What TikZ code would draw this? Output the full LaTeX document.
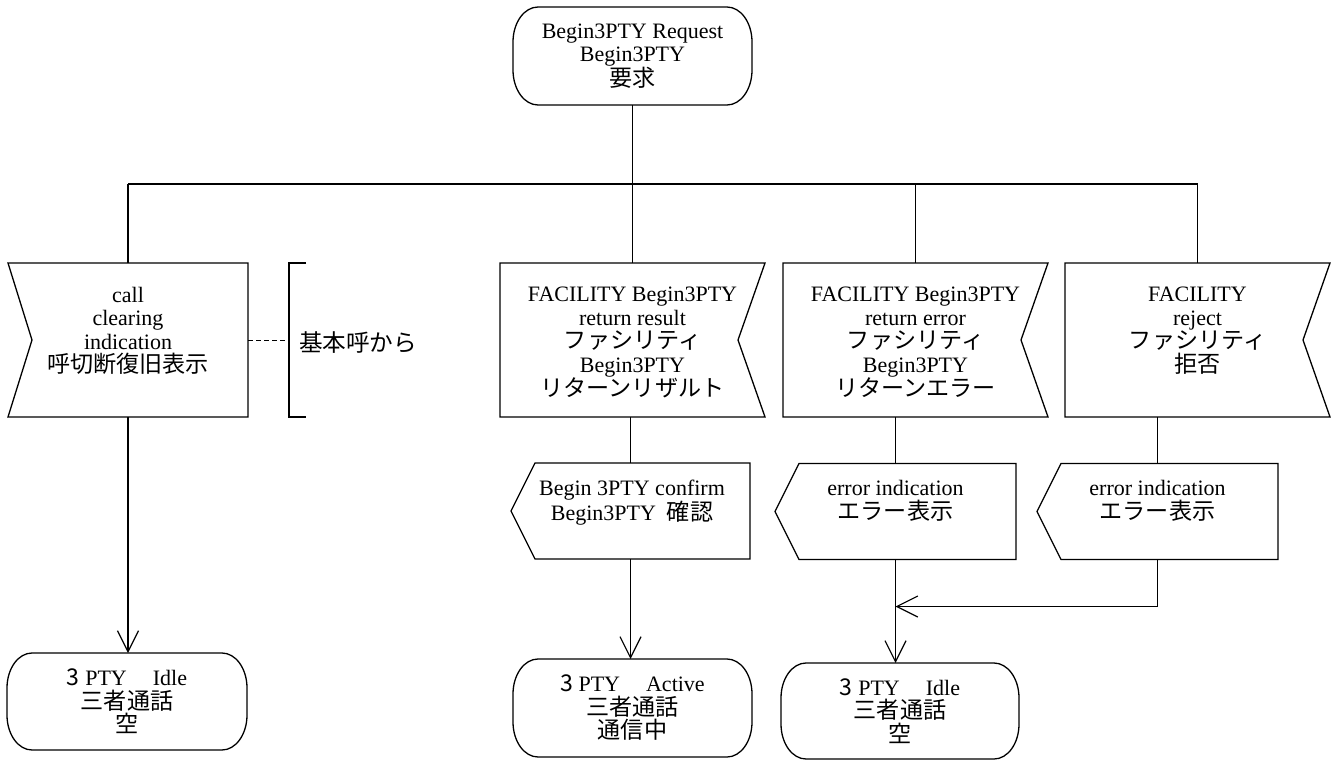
\documentclass[tikz,border=0pt]{standalone}
\usepackage{fontspec}
\setmainfont{Liberation Serif}
\newfontfamily\jp[Scale=1.05]{Noto Sans CJK JP}
\usetikzlibrary{arrows.meta,calc}

% SDL symbol outlines, drawn from the anchors of an empty frame node
\newcommand\sdlinleft[1]{\draw[sym] (#1.north west) -- (#1.north east) -- (#1.south east) -- (#1.south west) -- ([xshift=24pt]#1.west) -- cycle;}
\newcommand\sdlinright[1]{\draw[sym] (#1.north west) -- (#1.north east) -- ([xshift=-27pt]#1.east) -- (#1.south east) -- (#1.south west) -- cycle;}
\newcommand\sdlout[1]{\draw[sym] (#1.west) -- ([xshift=24pt]#1.north west) -- (#1.north east) -- (#1.south east) -- ([xshift=24pt]#1.south west) -- cycle;}
\newcommand\sdlstate[1]{\draw[sym] ([xshift=25pt]#1.north west) -- ([xshift=-25pt]#1.north east)
  arc[start angle=90,end angle=0,x radius=25pt,y radius=35pt]
  -- ([yshift=35pt]#1.south east)
  arc[start angle=0,end angle=-90,x radius=25pt,y radius=35pt]
  -- ([xshift=25pt]#1.south west)
  arc[start angle=270,end angle=180,x radius=25pt,y radius=35pt]
  -- ([yshift=-35pt]#1.north west)
  arc[start angle=180,end angle=90,x radius=25pt,y radius=35pt] -- cycle;}

\begin{document}
\begin{tikzpicture}[x=1pt,y=-1pt,
  every node/.style={inner sep=0pt,outer sep=0pt},
  sym/.style={line width=1.3pt,line join=miter},
  line/.style={line width=1.2pt},
  bus/.style={line width=2pt},
  conn/.style={line width=1.2pt,-{Straight Barb[length=21pt,width=21pt]}},
  frame/.style 2 args={minimum width=#1,minimum height=#2},
  txt/.style={align=center,anchor=north,font=\fontsize{22}{23.5}\selectfont},
  statetxt/.style={align=center,font=\fontsize{22}{23.5}\selectfont}]

\useasboundingbox (0,0) rectangle (1337,760);

% start state
\node[frame={239pt}{98pt},statetxt] (sT) at (632.5,56) {Begin3PTY Request\\Begin3PTY\\{\jp 要求}};
\sdlstate{sT}

% bus junctions
\coordinate (j1) at (128,184);
\coordinate (j2) at (632.5,184);
\coordinate (j3) at (915.5,184);
\coordinate (j4) at (1197.5,184);

% received signals
\node[frame={240pt}{154pt}] (b1) at (128,340) {};
\node[frame={265pt}{154pt}] (b2) at (632.5,340) {};
\node[frame={265pt}{154pt}] (b3) at (915.5,340) {};
\node[frame={265pt}{154pt}] (b4) at (1197.5,340) {};
\sdlinleft{b1}
\sdlinright{b2}
\sdlinright{b3}
\sdlinright{b4}
\node[txt] (b1t) at ($(b1.north)+(0,24)$) {call\\clearing\\indication\\{\jp 呼切断復旧表示}};
\node[txt] (b2t) at ($(b2.north)+(0,24)$) {FACILITY Begin3PTY\\return result\\{\jp ファシリティ}\\Begin3PTY\\{\jp リターンリザルト}};
\node[txt] (b3t) at ($(b3.north)+(0,24)$) {FACILITY Begin3PTY\\return error\\{\jp ファシリティ}\\Begin3PTY\\{\jp リターンエラー}};
\node[txt] (b4t) at ($(b4.north)+(0,24)$) {FACILITY\\reject\\{\jp ファシリティ}\\{\jp 拒否}};

% comment bracket
\node[frame={17pt}{154pt}] (br) at (297.5,340) {};
\draw[line] (br.north east) -- (br.north west) -- (br.south west) -- (br.south east);
\draw[line width=1pt,dash pattern=on 5pt off 3pt] (b1.east) -- (br.west);
\node[anchor=west,font=\fontsize{22.5}{26}\selectfont\jp] (brt) at ($(br.west)+(10,3)$) {基本呼から};

% sent signals
\node[frame={239pt}{96pt}] (b5) at (630.5,511) {};
\node[frame={241pt}{96pt}] (b6) at (895.5,511.5) {};
\node[frame={241pt}{96pt}] (b7) at (1157.5,511.5) {};
\sdlout{b5}
\sdlout{b6}
\sdlout{b7}
\node[txt] (b5t) at ($(b5.north)+(1.5,17)$) {Begin 3PTY confirm\\Begin3PTY\ \ {\jp 確認}};
\node[txt] (b6t) at ($(b6.north)+(0,17)$) {error indication\\{\jp エラー表示}};
\node[txt] (b7t) at ($(b7.north)+(0,17)$) {error indication\\{\jp エラー表示}};

% next states
\node[frame={240pt}{97pt},statetxt] (sL) at (127,701.5) {{\jp 3} PTY\hspace{26pt}Idle\\{\jp 三者通話}\\{\jp 空}};
\node[frame={239pt}{98pt},statetxt] (sM) at (632.5,708) {{\jp 3} PTY\hspace{26pt}Active\\{\jp 三者通話}\\{\jp 通信中}};
\node[frame={238pt}{96pt},statetxt] (sR) at (900,711) {{\jp 3} PTY\hspace{26pt}Idle\\{\jp 三者通話}\\{\jp 空}};
\sdlstate{sL}
\sdlstate{sM}
\sdlstate{sR}

% connectors
\draw[line] (sT.south) -- (j2);
\draw[bus] (j1) -- (j4);
\draw[line] (j1) -- (b1.north);
\draw[line] (j2) -- (b2.north);
\draw[line] (j3) -- (b3.north);
\draw[line] (j4) -- (b4.north);

\draw[conn] (b1.south) -- (b1.south |- sL.north);
\draw[line] (b5.north |- b2.south) -- (b5.north);
\draw[conn] (b5.north |- b5.south) -- (b5.north |- sM.north);
\draw[line] (b6.north |- b3.south) -- (b6.north);
\draw[line] (b7.north |- b4.south) -- (b7.north);
\coordinate (m) at ($(b6.south)+(0,47)$);
\draw[conn] (b6.south) -- (b6.south |- sR.north);
\draw[conn] (b7.south) |- (m);

\end{tikzpicture}
\end{document}
